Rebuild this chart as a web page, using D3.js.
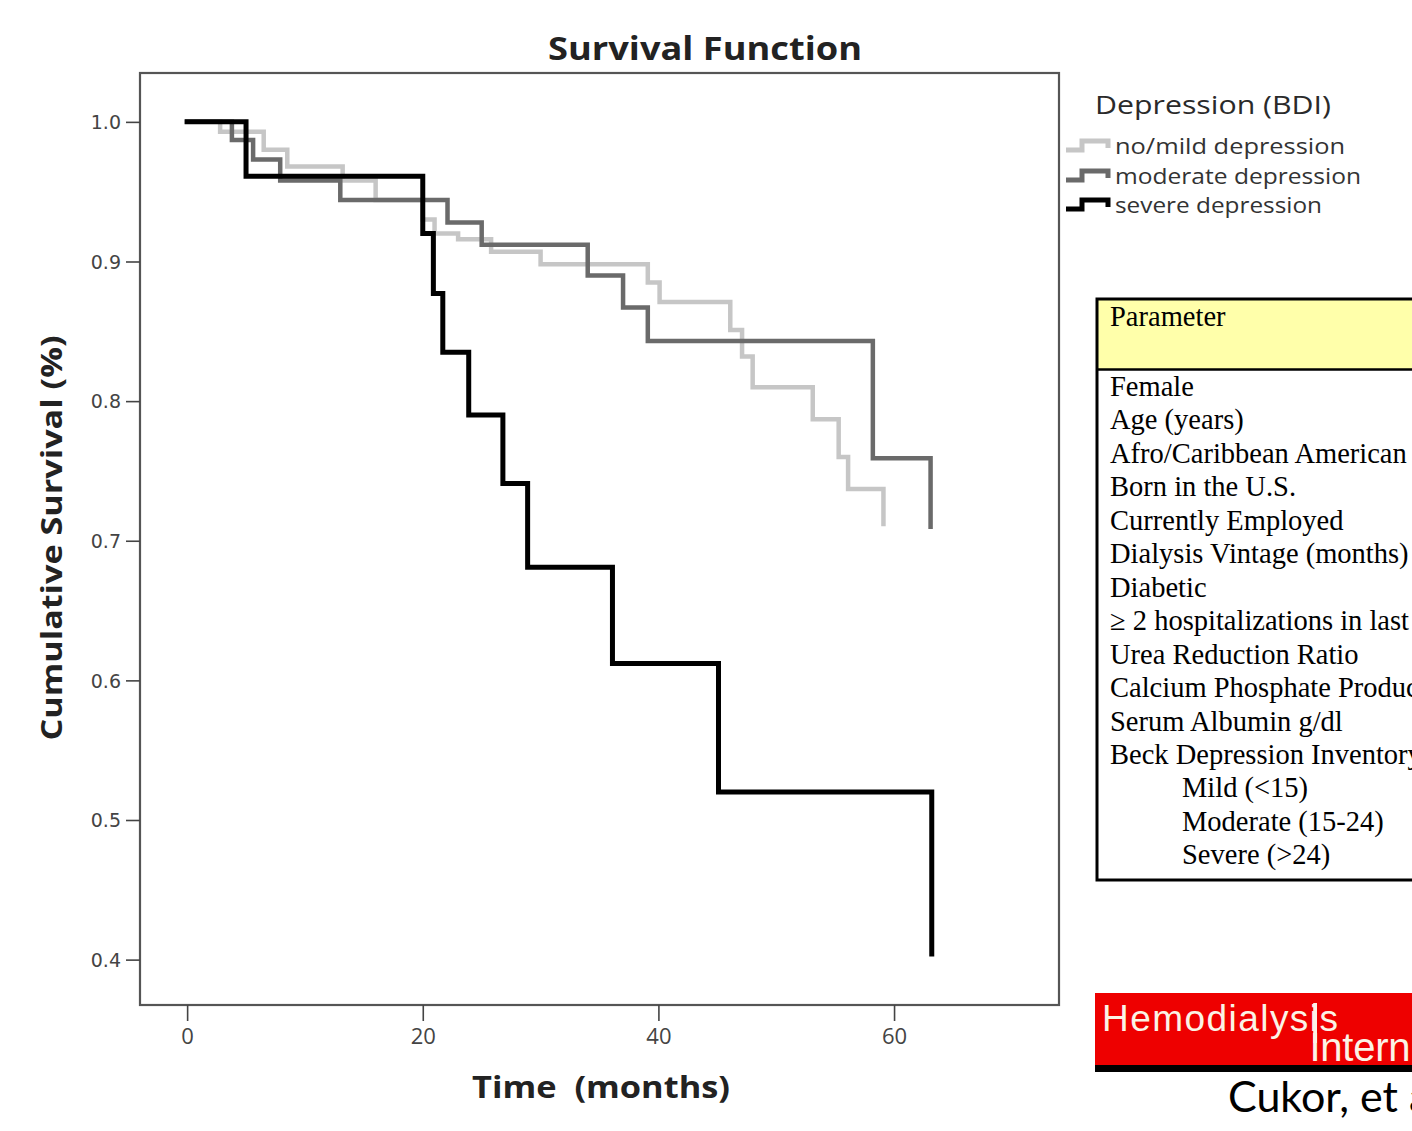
<!DOCTYPE html>
<html>
<head>
<meta charset="utf-8">
<script src="https://cdn.jsdelivr.net/npm/d3@7"></script>
<style>
  html, body { margin: 0; padding: 0; background: #fff; overflow: hidden; }
  svg { display: block; }
</style>
</head>
<body>
<svg id="chart" width="1412" height="1131"></svg>
<script>
// ---- Data ----
const seriesNames = ["no/mild depression", "moderate depression", "severe depression"];

const mildTimes = [0, 2.8, 6.5, 8.5, 13.2, 16, 20, 21, 23, 25.8, 30, 39.1, 40.1, 46.1, 47.1, 48.0, 53.1, 55.3, 56.1, 59.1];
const mildSurv  = [1.0, 0.993, 0.98, 0.968, 0.958, 0.944, 0.93, 0.92, 0.916, 0.907, 0.898, 0.885, 0.871, 0.851, 0.832, 0.810, 0.787, 0.760, 0.737, 0.712];

const moderateTimes = [0, 3.8, 5.6, 7.9, 13.0, 22.1, 25.0, 34.0, 37.0, 39.1, 58.2, 63.1];
const moderateSurv  = [1.0, 0.987, 0.973, 0.958, 0.944, 0.928, 0.912, 0.890, 0.867, 0.843, 0.759, 0.710];

const severeTimes = [0, 5.0, 20.0, 20.9, 21.7, 23.9, 26.8, 28.9, 36.1, 45.1, 63.2];
const severeSurv  = [1.0, 0.961, 0.92, 0.877, 0.835, 0.79, 0.741, 0.681, 0.612, 0.52, 0.404];

const xTicks = [0, 20, 40, 60];
const yTicks = [0.4, 0.5, 0.6, 0.7, 0.8, 0.9, 1.0];

const tableHeader = "Parameter";
const tableRows = ["Female", "Age (years)", "Afro/Caribbean American", "Born in the U.S.",
  "Currently Employed", "Dialysis Vintage (months)", "Diabetic", "\u2265 2 hospitalizations in last year",
  "Urea Reduction Ratio", "Calcium Phosphate Product", "Serum Albumin g/dl", "Beck Depression Inventory"];
const tableSubRows = ["Mild (<15)", "Moderate (15-24)", "Severe (>24)"];

// ---- Layout / styles ----
const colors = ["#c6c6c6", "#6a6a6a", "#000000"];
const widths = [4.5, 4.5, 5];
const frame = {left: 140, right: 1059, top: 73, bottom: 1005};

const svg = d3.select("#chart");

const x = d3.scaleLinear().domain([-4, 74]).range([frame.left, frame.right]);
const y = d3.scaleLinear().domain([0.3675, 1.035]).range([frame.bottom, frame.top]);

// Title
svg.append("text")
  .attr("x", 705).attr("y", 60)
  .attr("text-anchor", "middle")
  .attr("font-family", "Open Sans, sans-serif").attr("font-weight", "bold")
  .attr("font-size", 32).attr("fill", "#222")
  .attr("textLength", 314).attr("lengthAdjust", "spacingAndGlyphs")
  .text("Survival Function");

// Frame
svg.append("rect")
  .attr("x", frame.left).attr("y", frame.top)
  .attr("width", frame.right - frame.left).attr("height", frame.bottom - frame.top)
  .attr("fill", "none").attr("stroke", "#555").attr("stroke-width", 2.2);

// Y axis
const yAxis = d3.axisLeft(y).tickValues(yTicks).tickFormat(d3.format(".1f")).tickSize(14).tickPadding(5);
const gy = svg.append("g").attr("transform", `translate(${frame.left},0)`).call(yAxis);
gy.select(".domain").remove();
gy.selectAll(".tick line").attr("stroke", "#444").attr("stroke-width", 1.6);
gy.selectAll(".tick text")
  .attr("font-family", "DejaVu Sans, sans-serif").attr("font-size", 19).attr("fill", "#444")
  .attr("dy", "0.35em");

// X axis
const xAxis = d3.axisBottom(x).tickValues(xTicks).tickFormat(d3.format("d")).tickSize(16).tickPadding(7);
const gx = svg.append("g").attr("transform", `translate(0,${frame.bottom})`).call(xAxis);
gx.select(".domain").remove();
gx.selectAll(".tick line").attr("stroke", "#444").attr("stroke-width", 1.6);
gx.selectAll(".tick text")
  .attr("font-family", "Liberation Sans Narrow, Open Sans, sans-serif").attr("font-size", 22).attr("fill", "#444");

// Axis labels
svg.append("text")
  .attr("transform", "translate(62,538) rotate(-90)")
  .attr("text-anchor", "middle")
  .attr("font-family", "Open Sans, sans-serif").attr("font-weight", "bold")
  .attr("font-size", 28).attr("fill", "#222")
  .attr("textLength", 405).attr("lengthAdjust", "spacingAndGlyphs")
  .text("Cumulative Survival (%)");

svg.append("text")
  .attr("x", 601).attr("y", 1098)
  .attr("text-anchor", "middle")
  .attr("font-family", "Open Sans, sans-serif").attr("font-weight", "bold")
  .attr("font-size", 30).attr("fill", "#222")
  .attr("textLength", 258).attr("lengthAdjust", "spacingAndGlyphs")
  .text("Time\u00a0 (months)");

// Curves
const series = [
  {name: seriesNames[0], t: mildTimes, s: mildSurv},
  {name: seriesNames[1], t: moderateTimes, s: moderateSurv},
  {name: seriesNames[2], t: severeTimes, s: severeSurv}
];
const line = d3.line().x(d => x(d[0])).y(d => y(d[1])).curve(d3.curveStepAfter);

series.forEach((ser, i) => {
  const pts = ser.t.map((t, j) => [t, ser.s[j]]);
  svg.append("path")
    .datum(pts)
    .attr("d", line)
    .attr("fill", "none")
    .attr("stroke", colors[i])
    .attr("stroke-width", widths[i])
    .attr("stroke-linejoin", "miter")
    .attr("stroke-linecap", "square");
});

// Legend
svg.append("text")
  .attr("x", 1095).attr("y", 114)
  .attr("font-family", "Open Sans, sans-serif").attr("font-size", 26).attr("fill", "#2a2a2a")
  .attr("textLength", 236).attr("lengthAdjust", "spacingAndGlyphs")
  .text("Depression (BDI)");

const legendY = [146, 176, 205];
const legendW = [230, 246, 207];
series.forEach((ser, i) => {
  const cy = legendY[i];
  svg.append("path")
    .attr("d", `M1066,${cy + 4} H1082 V${cy - 5} H1108 V${cy + 2}`)
    .attr("fill", "none").attr("stroke", colors[i]).attr("stroke-width", 5);
  svg.append("text")
    .attr("x", 1115).attr("y", cy + 8)
    .attr("font-family", "Open Sans, sans-serif").attr("font-size", 22).attr("fill", "#333")
    .attr("textLength", legendW[i]).attr("lengthAdjust", "spacingAndGlyphs")
    .text(ser.name);
});

// Table
const tbl = svg.append("g");
const tableFont = 28.5;
tbl.append("rect").attr("x", 1097).attr("y", 299).attr("width", 330).attr("height", 70)
  .attr("fill", "#ffffaa");
tbl.append("rect").attr("x", 1097).attr("y", 299).attr("width", 330).attr("height", 581)
  .attr("fill", "none").attr("stroke", "#000").attr("stroke-width", 3);
tbl.append("line").attr("x1", 1097).attr("x2", 1412).attr("y1", 369.5).attr("y2", 369.5)
  .attr("stroke", "#000").attr("stroke-width", 2.5);
tbl.append("text").attr("x", 1110).attr("y", 326)
  .attr("font-family", "Liberation Serif, serif").attr("font-size", tableFont).attr("fill", "#000")
  .text(tableHeader);
tableRows.forEach((r, i) => {
  tbl.append("text").attr("x", 1110).attr("y", 396 + i * 33.45)
    .attr("font-family", "Liberation Serif, serif").attr("font-size", tableFont).attr("fill", "#000")
    .text(r);
});
tableSubRows.forEach((r, i) => {
  tbl.append("text").attr("x", 1182).attr("y", 396 + (tableRows.length + i) * 33.45)
    .attr("font-family", "Liberation Serif, serif").attr("font-size", tableFont).attr("fill", "#000")
    .text(r);
});

// Journal logo
svg.append("rect").attr("x", 1095).attr("y", 993).attr("width", 330).attr("height", 73).attr("fill", "#ee0000");
svg.append("rect").attr("x", 1095).attr("y", 1065).attr("width", 330).attr("height", 7).attr("fill", "#000");
svg.append("text").attr("x", 1102).attr("y", 1031)
  .attr("font-family", "Liberation Sans, Arial, sans-serif").attr("font-size", 37).attr("fill", "#fbf3e6")
  .attr("textLength", 236).attr("lengthAdjust", "spacing")
  .text("Hemodialysis");
svg.append("text").attr("x", 1309.5).attr("y", 1061)
  .attr("font-family", "Liberation Sans, Arial, sans-serif").attr("font-size", 40).attr("fill", "#fbf3e6")
  .attr("textLength", 101).attr("lengthAdjust", "spacing")
  .text("Intern");
svg.append("rect").attr("x", 1313.2).attr("y", 1003).attr("width", 3.8).attr("height", 40).attr("fill", "#fbf3e6");

svg.append("text").attr("x", 1228).attr("y", 1112)
  .attr("font-family", "Lato, sans-serif").attr("font-size", 43).attr("fill", "#000")
  .text("Cukor, et al.");
</script>
</body>
</html>
